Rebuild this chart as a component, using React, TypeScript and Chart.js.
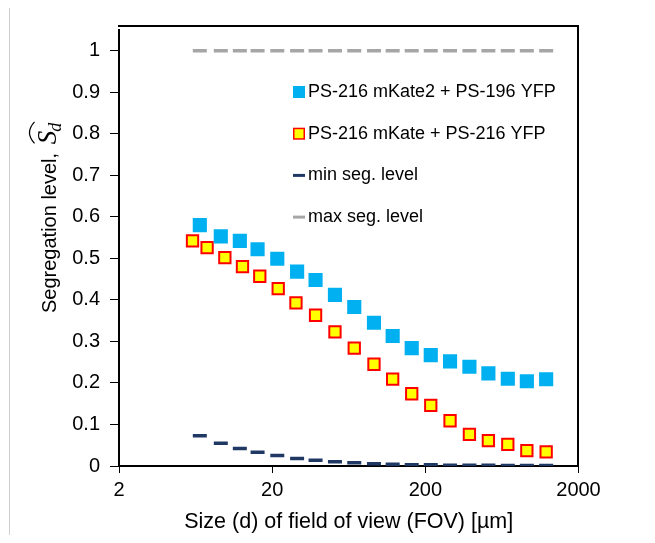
import React, { useEffect, useRef } from 'react';
import { Chart, registerables } from 'chart.js';

Chart.register(...registerables);

// FOV sizes (µm) for series A, min and max
const fovSizesA = [6.74, 9.24, 12.3, 16.06, 21.6, 29.1, 38.4, 51.4, 68.7, 92.4, 122.4, 163, 217, 290, 388, 516, 691, 920, 1230];
// FOV sizes (µm) for series B
const fovSizesB = [6.04, 7.52, 9.82, 12.8, 16.6, 21.9, 28.6, 38.4, 51.4, 68.7, 92.4, 122.4, 163, 217, 290, 388, 516, 691, 920, 1230];

const segMKate2 = [0.58, 0.553, 0.542, 0.522, 0.499, 0.468, 0.448, 0.412, 0.383, 0.345, 0.313, 0.284, 0.267, 0.252, 0.239, 0.223, 0.21, 0.204, 0.209];
const segMKate = [0.542, 0.526, 0.502, 0.48, 0.457, 0.427, 0.393, 0.363, 0.323, 0.284, 0.245, 0.209, 0.174, 0.146, 0.109, 0.076, 0.061, 0.052, 0.037, 0.034];
const minSegLevel = [0.073, 0.055, 0.042, 0.033, 0.025, 0.018, 0.014, 0.01, 0.008, 0.0055, 0.004, 0.003, 0.003, 0.002, 0.002, 0.002, 0.001, 0.001, 0.001];
const maxSegLevel = [1, 1, 1, 1, 1, 1, 1, 1, 1, 1, 1, 1, 1, 1, 1, 1, 1, 1, 1];

const seriesLabels = ['PS-216 mKate2 + PS-196 YFP', 'PS-216 mKate + PS-216 YFP', 'min seg. level', 'max seg. level'];
const xTickValues = [2, 20, 200, 2000];
const yTickValues = [0, 0.1, 0.2, 0.3, 0.4, 0.5, 0.6, 0.7, 0.8, 0.9, 1];
const xTitle = 'Size (d) of field of view (FOV) [µm]';
const yTitle = 'Segregation level, ';

const FONT = "'Liberation Sans', Arial, sans-serif";
const SERIF = "'Liberation Serif', 'DejaVu Serif', serif";

const toPoints = (xs: number[], ys: number[]) => ys.map((y, i) => ({ x: xs[i], y }));

const decorPlugin = {
  id: 'decor',
  afterDraw(chart: any) {
    const ctx = chart.ctx as CanvasRenderingContext2D;
    const area = chart.chartArea;
    const L = area.left;
    const R = area.right;

    // Legend (inside plot area)
    ctx.save();
    ctx.font = `18px ${FONT}`;
    ctx.textBaseline = 'middle';
    ctx.textAlign = 'left';
    const mx = 291;
    const tx = 300;
    chart.data.datasets.forEach((ds: any, i: number) => {
      const cy = 84 + i * 41.7;
      if (ds.pointStyle === 'rect') {
        const s = ds.borderWidth > 0 ? 10.5 : 12;
        ctx.fillStyle = ds.backgroundColor;
        ctx.fillRect(mx - s / 2, cy - s / 2, s, s);
        if (ds.borderWidth > 0) {
          ctx.strokeStyle = ds.borderColor;
          ctx.lineWidth = 1.5;
          ctx.strokeRect(mx - s / 2, cy - s / 2, s, s);
        }
      } else {
        ctx.strokeStyle = ds.borderColor;
        ctx.lineWidth = 3;
        ctx.beginPath();
        ctx.moveTo(mx - 6, cy);
        ctx.lineTo(mx + 6, cy);
        ctx.stroke();
      }
      ctx.fillStyle = '#000';
      ctx.fillText(ds.label, tx, cy);
    });
    ctx.restore();

    // X axis title
    ctx.save();
    ctx.font = `21.5px ${FONT}`;
    ctx.fillStyle = '#000';
    ctx.textAlign = 'center';
    ctx.textBaseline = 'middle';
    ctx.fillText(xTitle, (L + R) / 2, 514);
    ctx.restore();

    // Y axis title with widehat S_d
    ctx.save();
    ctx.translate(47.5, 305);
    ctx.rotate(-Math.PI / 2);
    ctx.fillStyle = '#000';
    ctx.strokeStyle = '#000';
    ctx.textAlign = 'left';
    ctx.textBaseline = 'alphabetic';
    ctx.font = `20px ${FONT}`;
    ctx.fillText(yTitle, 0, 0);
    const w = ctx.measureText(yTitle).width;
    ctx.font = `italic 27px ${SERIF}`;
    const sx = w + 3;
    ctx.fillText('S', sx, 0);
    const sw = ctx.measureText('S').width;
    ctx.font = `italic 18px ${SERIF}`;
    ctx.fillText('d', sx + sw - 1, 5);
    const dw = ctx.measureText('d').width;
    const hx0 = sx + 1;
    const hx1 = sx + sw + dw;
    const hy = -21;
    ctx.lineWidth = 1.2;
    ctx.beginPath();
    ctx.moveTo(hx0, hy);
    ctx.quadraticCurveTo((hx0 + hx1) / 2, hy - 10, hx1, hy);
    ctx.stroke();
    ctx.restore();
  },
};

export default function App() {
  const canvasRef = useRef<HTMLCanvasElement | null>(null);

  useEffect(() => {
    if (!canvasRef.current) return;
    const chart = new Chart(canvasRef.current, {
      type: 'scatter',
      data: {
        datasets: [
          {
            label: seriesLabels[0],
            data: toPoints(fovSizesA, segMKate2),
            pointStyle: 'rect',
            pointRadius: 10,
            backgroundColor: '#00B0F0',
            borderColor: '#00B0F0',
            borderWidth: 0,
            showLine: false,
          },
          {
            label: seriesLabels[1],
            data: toPoints(fovSizesB, segMKate),
            pointStyle: 'rect',
            pointRadius: 8,
            backgroundColor: '#FFFF00',
            borderColor: '#FF0000',
            borderWidth: 2,
            showLine: false,
          },
          {
            label: seriesLabels[2],
            data: toPoints(fovSizesA, minSegLevel),
            pointStyle: 'line',
            pointRadius: 7,
            backgroundColor: '#1F3864',
            borderColor: '#1F3864',
            borderWidth: 3.5,
            showLine: false,
          },
          {
            label: seriesLabels[3],
            data: toPoints(fovSizesA, maxSegLevel),
            pointStyle: 'line',
            pointRadius: 7,
            backgroundColor: '#A6A6A6',
            borderColor: '#A6A6A6',
            borderWidth: 3.5,
            showLine: false,
          },
        ],
      },
      options: {
        animation: false,
        responsive: true,
        maintainAspectRatio: false,
        layout: { padding: { top: 18, right: 68.5, bottom: 9, left: 0 } },
        plugins: {
          legend: { display: false },
          tooltip: { enabled: false },
          title: { display: false },
        },
        scales: {
          x: {
            type: 'logarithmic',
            position: 'bottom',
            min: 2,
            max: 2000,
            afterBuildTicks: (s: any) => {
              s.ticks = xTickValues.map((v) => ({ value: v }));
            },
            afterFit: (s: any) => {
              s.height = 60;
            },
            ticks: {
              callback: (v: any) => String(v),
              font: { family: FONT, size: 20 },
              color: '#000',
              padding: 5,
              maxRotation: 0,
              autoSkip: false,
            },
            grid: { drawOnChartArea: false, color: '#000', tickLength: 7, lineWidth: 1 },
            border: { color: '#000', width: 2 },
          },
          y: {
            type: 'linear',
            min: 0,
            max: 1.05,
            afterBuildTicks: (s: any) => {
              s.ticks = yTickValues.map((v) => ({ value: v }));
            },
            afterFit: (s: any) => {
              s.width = 111;
            },
            ticks: {
              callback: (v: any) => String(v),
              font: { family: FONT, size: 20 },
              color: '#000',
              padding: 10,
            },
            grid: { drawOnChartArea: false, color: '#000', tickLength: 9, lineWidth: 1 },
            border: { color: '#000', width: 2 },
          },
        },
      } as any,
      plugins: [decorPlugin],
    });
    return () => chart.destroy();
  }, []);

  return (
    <div style={{ position: 'relative', width: 639, height: 527 }}>
      <div
        style={{
          position: 'absolute',
          left: 1,
          top: -1,
          width: 644,
          height: 528,
          boxSizing: 'border-box',
          borderLeft: '1px solid #D0D0D0',
          borderTop: '1px solid #D0D0D0',
          borderRight: '1px solid #D0D0D0',
          pointerEvents: 'none',
        }}
      />
      <canvas ref={canvasRef} />
      <div
        style={{
          position: 'absolute',
          left: 110,
          top: 17,
          width: 461,
          height: 442,
          boxSizing: 'border-box',
          borderTop: '2px solid #000',
          borderRight: '2px solid #000',
          pointerEvents: 'none',
        }}
      />
    </div>
  );
}
